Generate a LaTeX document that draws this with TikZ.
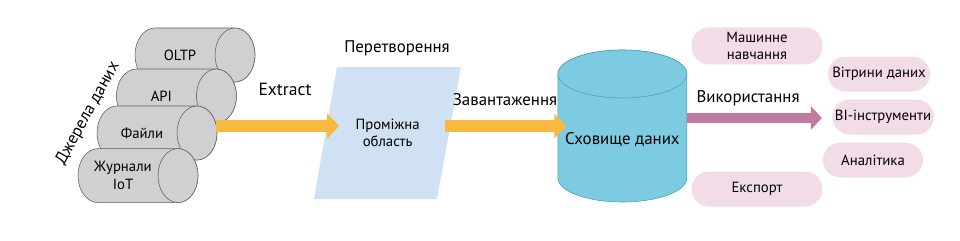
\documentclass[tikz,border=0pt]{standalone}
\usepackage{fontspec}
\setmainfont{PT Sans}
\usetikzlibrary{arrows.meta,calc,positioning}
\definecolor{csrc}{RGB}{208,208,211}
\definecolor{cline}{RGB}{95,95,95}
\definecolor{cstage}{RGB}{207,225,243}
\definecolor{cdwh}{RGB}{125,203,225}
\definecolor{cdwhl}{RGB}{72,160,192}
\definecolor{cload}{RGB}{247,186,62}
\definecolor{cuse}{RGB}{193,122,160}
\definecolor{cpill}{RGB}{242,220,232}
\tikzset{
  srcline/.style={draw=cline,fill=csrc,thin},
  srclab/.style={font=\fontsize{10.5}{12.5}\selectfont,align=center,inner sep=1pt},
  stagelab/.style={font=\fontsize{10.5}{12.5}\selectfont,align=center},
  dwhline/.style={draw=cdwhl,fill=cdwh,thin},
  dwhbox/.style={rectangle,draw=none,minimum width=3.225cm,minimum height=3.725cm,inner sep=0pt},
  pill/.style={rectangle,rounded corners=0.44cm,fill=cpill,draw=none,
    minimum height=0.875cm,inner sep=2pt,align=center,font=\fontsize{10.5}{12.5}\selectfont},
  lab/.style={font=\fontsize{12}{14}\selectfont},
  % wide arrows: yellow for loading, purple for use
  load/.style={-{Triangle[length=0.3cm,width=0.6cm]},line width=0.3cm,draw=cload},
  use/.style={-{Triangle[length=0.275cm,width=0.575cm]},line width=0.25cm,draw=cuse}
}
\begin{document}
\begin{tikzpicture}
  \useasboundingbox (0,0) rectangle (24,6);
  % sources, back to front
  \foreach \n/\x/\y/\t in {oltp/4.875/4.625/OLTP, api/4.41/3.6/API,
      files/3.925/2.675/Файли, iot/3.45/1.61/{Журнали\\IoT}} {
    \draw[srcline] (\x-1,\y+0.675) -- (\x+1,\y+0.675)
      arc[start angle=90,end angle=-90,x radius=0.5,y radius=0.675]
      -- (\x-1,\y-0.675)
      arc[start angle=270,end angle=90,x radius=0.5,y radius=0.675] -- cycle;
    \draw[srcline] (\x+1,\y) ellipse[x radius=0.5,y radius=0.675];
    \node[srclab] (\n) at (\x-0.375,\y) {\t};
  }
  \node[lab,rotate=61] (srcs) at (2.2,3.17) {Джерела даних};

  % staging area
  \fill[cstage] (7.85,1.025) -- (10.925,1.025) -- (11.525,4.325) -- (8.425,4.325) -- cycle;
  \node[stagelab] (stg) at (9.69,2.675) {Проміжна\\область};
  \node[lab] (tr) at (9.925,4.8) {Перетворення};

  % warehouse
  \draw[dwhline] (13.9475,4.15) -- (13.9475,1.55)
    arc[start angle=180,end angle=360,x radius=1.6125,y radius=0.6]
    -- (17.1725,4.15) arc[start angle=0,end angle=180,x radius=1.6125,y radius=0.6] -- cycle;
  \draw[dwhline] (15.56,4.15) ellipse[x radius=1.6125,y radius=0.6];
  \node[dwhbox,label={[lab,yshift=-0.35cm]center:Сховище даних}] (dwh) at (15.56,2.85) {};

  \draw[load] ($(files.center)+(1.84,0.175)$) -- ($(stg.center)+(-1.21,0.175)$);
  \node[lab,font=\fontsize{12.5}{14}\selectfont] (ex) at (7.125,3.775) {Extract};
  \draw[load] ($(stg.center)+(1.44,0.175)$) -- ($(dwh.west)+(0.22,0)$);
  \node[lab] (ld) at (12.625,3.5) {Завантаження};

  % consumers
  \node[pill,minimum width=3.275cm,minimum height=0.925cm] (ml) at (18.925,4.85) {Машинне\\навчання};
  \node[pill,minimum width=2.55cm] (mart) at (21.975,4.15) {Вітрини даних};
  \node[pill,minimum width=2.5cm] (bi) at (22.075,3.075) {BI-інструменти};
  \node[pill,minimum width=2.5cm] (an) at (21.825,2.0) {Аналітика};
  \node[pill,minimum width=3.275cm] (exp) at (18.925,1.275) {Експорт};

  \coordinate (u0) at ($(dwh.east)+(0,0.2)$);
  \draw[use,shorten >=0.25cm] (u0) -- (u0 -| bi.west);
  \node[lab] (us) at (18.7,3.55) {Використання};
\end{tikzpicture}
\end{document}
